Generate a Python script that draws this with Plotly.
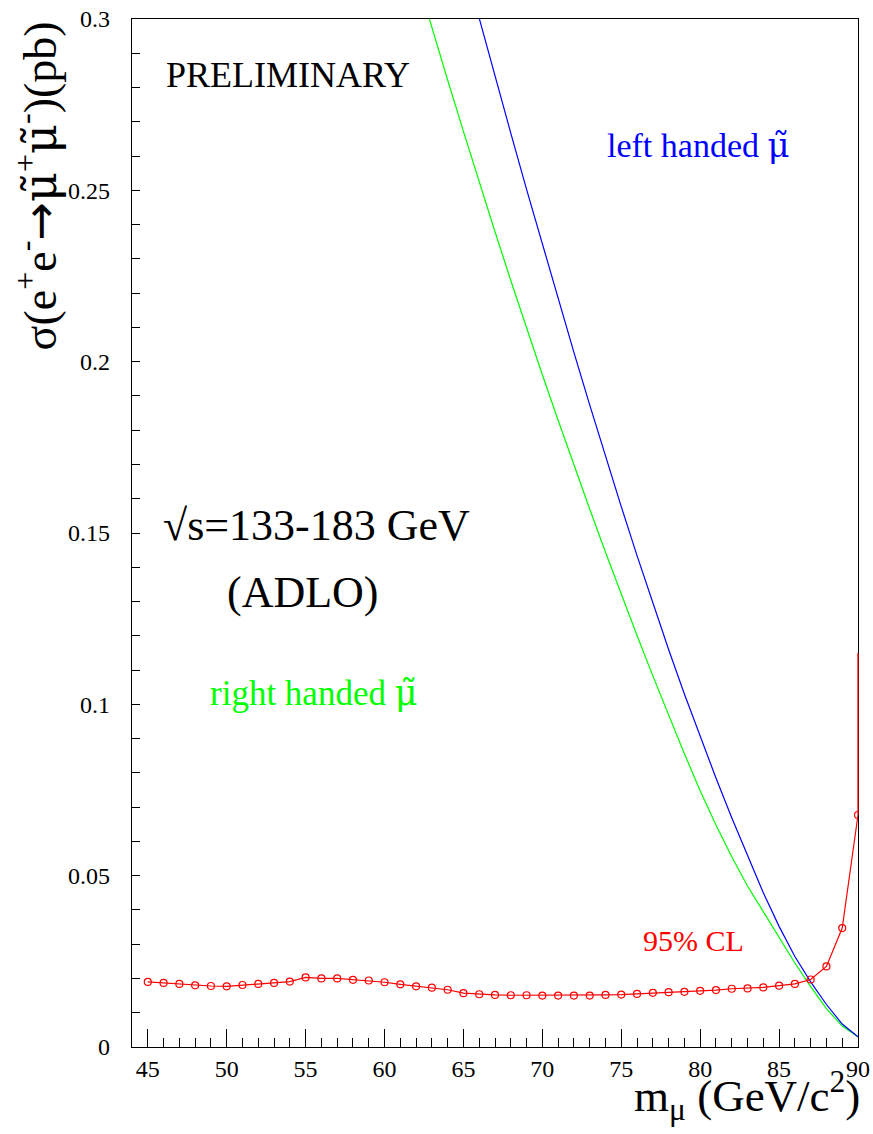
import plotly.graph_objects as go

# 95% CL upper limit (red, open circles)
cl_mass = list(range(45, 91))
cl_xsec = [0.0190, 0.0187, 0.0184, 0.0180, 0.0178, 0.0177, 0.0181, 0.0184, 0.0187, 0.0191,
           0.0203, 0.0200, 0.0200, 0.0196, 0.0194, 0.0189, 0.0183, 0.0177, 0.0173, 0.0167,
           0.0157, 0.0154, 0.0152, 0.0151, 0.0151, 0.0150, 0.0150, 0.0150, 0.0150, 0.0152,
           0.0153, 0.0155, 0.0158, 0.0160, 0.0161, 0.0164, 0.0166, 0.0170, 0.0171, 0.0174,
           0.0179, 0.0184, 0.0197, 0.0235, 0.0347, 0.0677]
cl_end_xsec = 0.115  # red line continues vertically at the kinematic limit

# left handed smuon cross-section (blue)
left_mass = list(range(65, 91))
left_xsec = [0.317, 0.300, 0.2833, 0.2667, 0.2503, 0.2342, 0.2183, 0.2027, 0.1874, 0.1724,
             0.1577, 0.1434, 0.1295, 0.1160, 0.1030, 0.0905, 0.0785, 0.0669, 0.0557, 0.0450,
             0.0352, 0.0264, 0.0190, 0.0124, 0.0067, 0.0030]

# right handed smuon cross-section (green)
right_mass = list(range(62, 91))
right_xsec = [0.313, 0.2974, 0.2822, 0.2672, 0.2524, 0.2379, 0.2237, 0.2098, 0.1962, 0.1829,
              0.1698, 0.1570, 0.1444, 0.1321, 0.1201, 0.1083, 0.0968, 0.0856, 0.0748, 0.0648,
              0.0555, 0.0470, 0.0395, 0.0318, 0.0245, 0.0176, 0.0112, 0.0061, 0.0030]

x_range = [44, 90]
y_range = [0, 0.3]

FONT = "Liberation Serif"
MU_T = "<span style=\"font-family:DejaVu Serif\">μ̃</span>"
ARROW = "<span style=\"font-family:DejaVu Sans\">→</span>"

fig = go.Figure()
fig.add_trace(go.Scatter(x=right_mass, y=right_xsec, mode="lines",
                         line=dict(color="#00ff00", width=1.2), showlegend=False))
fig.add_trace(go.Scatter(x=left_mass, y=left_xsec, mode="lines",
                         line=dict(color="#0000ff", width=1.2), showlegend=False))
fig.add_trace(go.Scatter(x=cl_mass, y=cl_xsec, mode="lines+markers",
                         line=dict(color="#ff0000", width=1.2),
                         marker=dict(symbol="circle-open", size=7, color="#ff0000",
                                     line=dict(width=1.2, color="#ff0000")),
                         showlegend=False))

# vertical continuation of the limit at the kinematic edge, drawn above the frame
edge_frac = (cl_mass[-1] - x_range[0]) / (x_range[1] - x_range[0])
fig.add_shape(type="line", xref="paper", yref="y", x0=edge_frac, x1=edge_frac,
              y0=cl_xsec[-1], y1=cl_end_xsec, layer="above",
              line=dict(color="#ff0000", width=1.3))

def ann(text, x, y, size, color="black", **kw):
    fig.add_annotation(text=text, x=x, y=y, xref="x", yref="y", showarrow=False,
                       font=dict(family=FONT, size=size, color=color), **kw)

ann("PRELIMINARY", 53.89, 0.2836, 36)
ann("left handed " + MU_T, 79.9, 0.2632, 34, color="#0000ff")
ann("√s=133-183 GeV", 55.72, 0.1523, 44)
ann("(ADLO)", 54.84, 0.1325, 44)
ann("right handed " + MU_T, 55.47, 0.1033, 35, color="#00ff00")
ann("95% CL", 79.55, 0.0312, 30, color="#ff0000")

# axis titles
fig.add_annotation(text="σ(e<sup>+</sup>e<sup>-</sup>" + ARROW + MU_T + "<sup>+</sup>" + MU_T
                        + "<sup>-</sup>)(pb)",
                   xref="paper", yref="paper", x=-0.131, y=1.0, xanchor="center", yanchor="top",
                   textangle=-90, showarrow=False, font=dict(family=FONT, size=46, color="black"))
fig.add_annotation(text="m<sub>μ</sub> (GeV/c<sup>2</sup>)",
                   xref="paper", yref="paper", x=1.006, y=-0.08, xanchor="right", yanchor="bottom",
                   showarrow=False, font=dict(family=FONT, size=45, color="black"))

fig.update_xaxes(range=x_range, showline=True, linecolor="black", linewidth=1.2, mirror=True,
                 showgrid=False, zeroline=False, ticks="inside", ticklen=18, tickwidth=1,
                 tickcolor="black", tick0=45, dtick=5, automargin=False,
                 minor=dict(ticks="inside", ticklen=9, dtick=1, tick0=45, tickcolor="black", showgrid=False),
                 tickfont=dict(family=FONT, size=24, color="black"), ticklabelstandoff=0)
fig.update_yaxes(range=y_range, showline=True, linecolor="black", linewidth=1.2, mirror=True,
                 showgrid=False, zeroline=False, ticks="inside", ticklen=8, tickwidth=1,
                 tickcolor="black", tick0=0, dtick=0.05, automargin=False,
                 minor=dict(ticks="inside", ticklen=8, dtick=0.01, tick0=0, tickcolor="black", showgrid=False),
                 tickfont=dict(family=FONT, size=24, color="black"), ticklabelstandoff=16)

fig.update_layout(width=873, height=1134, margin=dict(l=132, r=15, t=19, b=87),
                  paper_bgcolor="white", plot_bgcolor="white", showlegend=False)

fig.write_html("out.html")
